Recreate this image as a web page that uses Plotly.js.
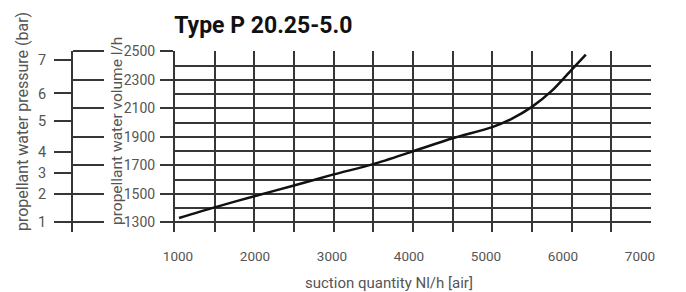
<!DOCTYPE html>
<html>
<head>
<meta charset="utf-8">
<script src="https://cdn.plot.ly/plotly-3.0.1.min.js"></script>
<style>html,body{margin:0;padding:0;background:#fff;}#chart{width:686px;height:292px;}</style>
</head>
<body>
<div id="chart"></div>
<script>
// ---- data ----
const suction = [1050, 1500, 2000, 2500, 3000, 3500, 4000, 4500, 5000, 5250, 5500, 5750, 6000, 6180];
const volume  = [1330, 1405, 1483, 1558, 1636, 1708, 1798, 1890, 1968, 2028, 2110, 2222, 2370, 2477];
// pressure scale (bar) and the volume level where each pressure tick sits
const pressureLabels = ['1', '2', '3', '4', '5', '6', '7'];
const pressureAtVolume = [1300, 1498, 1643, 1795, 2012, 2204, 2442];
// x tick labels
const xLabelVals = [1000, 2000, 3000, 4000, 5000, 6000, 7000];
const xLabelText = ['1000', '2000', '3000', '4000', '5000', '6000', '7000'];

const ink = '#363636';
const grey = '#555';
const fam = 'Roboto, "DejaVu Sans", sans-serif';
const gw = 2;

const curve = {
  x: suction, y: volume, type: 'scatter', mode: 'lines',
  line: {color: '#111', width: 2.5, shape: 'spline', smoothing: 0.8},
  hoverinfo: 'skip', showlegend: false
};
// same data attached (invisibly) to the helper axes so that Plotly draws them
const helperP = {x: suction, y: volume, xaxis: 'x2', yaxis: 'y2', type: 'scatter', mode: 'lines',
  line: {width: 0}, opacity: 0, hoverinfo: 'skip', showlegend: false};
const helperT = {x: suction, y: volume, xaxis: 'x', yaxis: 'y3', type: 'scatter', mode: 'lines',
  line: {width: 0}, opacity: 0, hoverinfo: 'skip', showlegend: false};

const yRange = [1232, 2502];
const pAxisPos = 0.0524;

const layout = {
  width: 686, height: 292,
  margin: {l: 40, r: 35, t: 51, b: 60},
  paper_bgcolor: '#fff', plot_bgcolor: '#fff',
  showlegend: false,
  font: {family: fam, color: grey, size: 13},
  title: {
    text: 'Type P 20.25-5.0',
    font: {family: fam, size: 23, color: '#111', weight: 700},
    xref: 'container', x: 0.254, xanchor: 'left',
    yref: 'container', y: 0.915, yanchor: 'middle'
  },
  xaxis: {
    domain: [0.221, 1], anchor: 'y',
    range: [1000, 7002], tick0: 1000, dtick: 500,
    showgrid: true, gridcolor: ink, gridwidth: gw,
    ticks: '', showticklabels: false, showline: false, zeroline: false
  },
  xaxis2: {
    overlaying: 'x', anchor: 'y',
    range: [961, 7143], tickmode: 'array', tickvals: xLabelVals, ticktext: xLabelText,
    showgrid: false, ticks: '', showline: false, zeroline: false,
    ticklabelstandoff: 14,
    tickfont: {family: fam, size: 13.5, color: grey}
  },
  yaxis: {
    domain: [0, 1], anchor: 'x',
    range: yRange, tick0: 1300, dtick: 200,
    ticks: 'outside', ticklen: 13, tickwidth: gw, tickcolor: ink,
    showline: true, linecolor: ink, linewidth: gw,
    showgrid: true, gridcolor: ink, gridwidth: gw, zeroline: false,
    minor: {tick0: 1300, dtick: 100, showgrid: true, gridcolor: ink, gridwidth: gw, ticks: ''},
    ticklabelstandoff: 2,
    tickfont: {family: fam, size: 14, color: grey}
  },
  yaxis2: {
    overlaying: 'y', anchor: 'free', position: pAxisPos, side: 'left',
    range: yRange, tickmode: 'array', tickvals: pressureAtVolume, ticktext: pressureLabels,
    ticks: 'outside', ticklen: 17, tickwidth: gw, tickcolor: ink,
    showline: true, linecolor: ink, linewidth: gw,
    showgrid: false, zeroline: false,
    ticklabelstandoff: 5,
    tickfont: {family: fam, size: 14.5, color: grey}
  },
  yaxis3: {
    overlaying: 'y', anchor: 'free', position: pAxisPos, side: 'right',
    range: yRange, tick0: 1300, dtick: 200,
    ticks: 'outside', ticklen: 31, tickwidth: gw, tickcolor: ink,
    showticklabels: false, showline: false, showgrid: false, zeroline: false
  },
  annotations: [
    {text: 'propellant water pressure (bar)', textangle: -90, xref: 'paper', yref: 'paper',
     x: -0.0295, y: 0.613, xanchor: 'center', yanchor: 'middle', showarrow: false,
     font: {family: fam, size: 16, color: grey}},
    {text: 'propellant water volume l/h', textangle: -90, xref: 'paper', yref: 'paper',
     x: 0.126, y: 0.558, xanchor: 'center', yanchor: 'middle', showarrow: false,
     font: {family: fam, size: 15.5, color: grey}},
    {text: 'suction quantity Nl/h [air]', xref: 'paper', yref: 'paper',
     x: 0.571, y: -0.282, xanchor: 'center', yanchor: 'middle', showarrow: false,
     font: {family: fam, size: 15, color: grey}}
  ]
};

Plotly.newPlot('chart', [curve, helperP, helperT], layout, {staticPlot: true, displayModeBar: false});
</script>
</body>
</html>
